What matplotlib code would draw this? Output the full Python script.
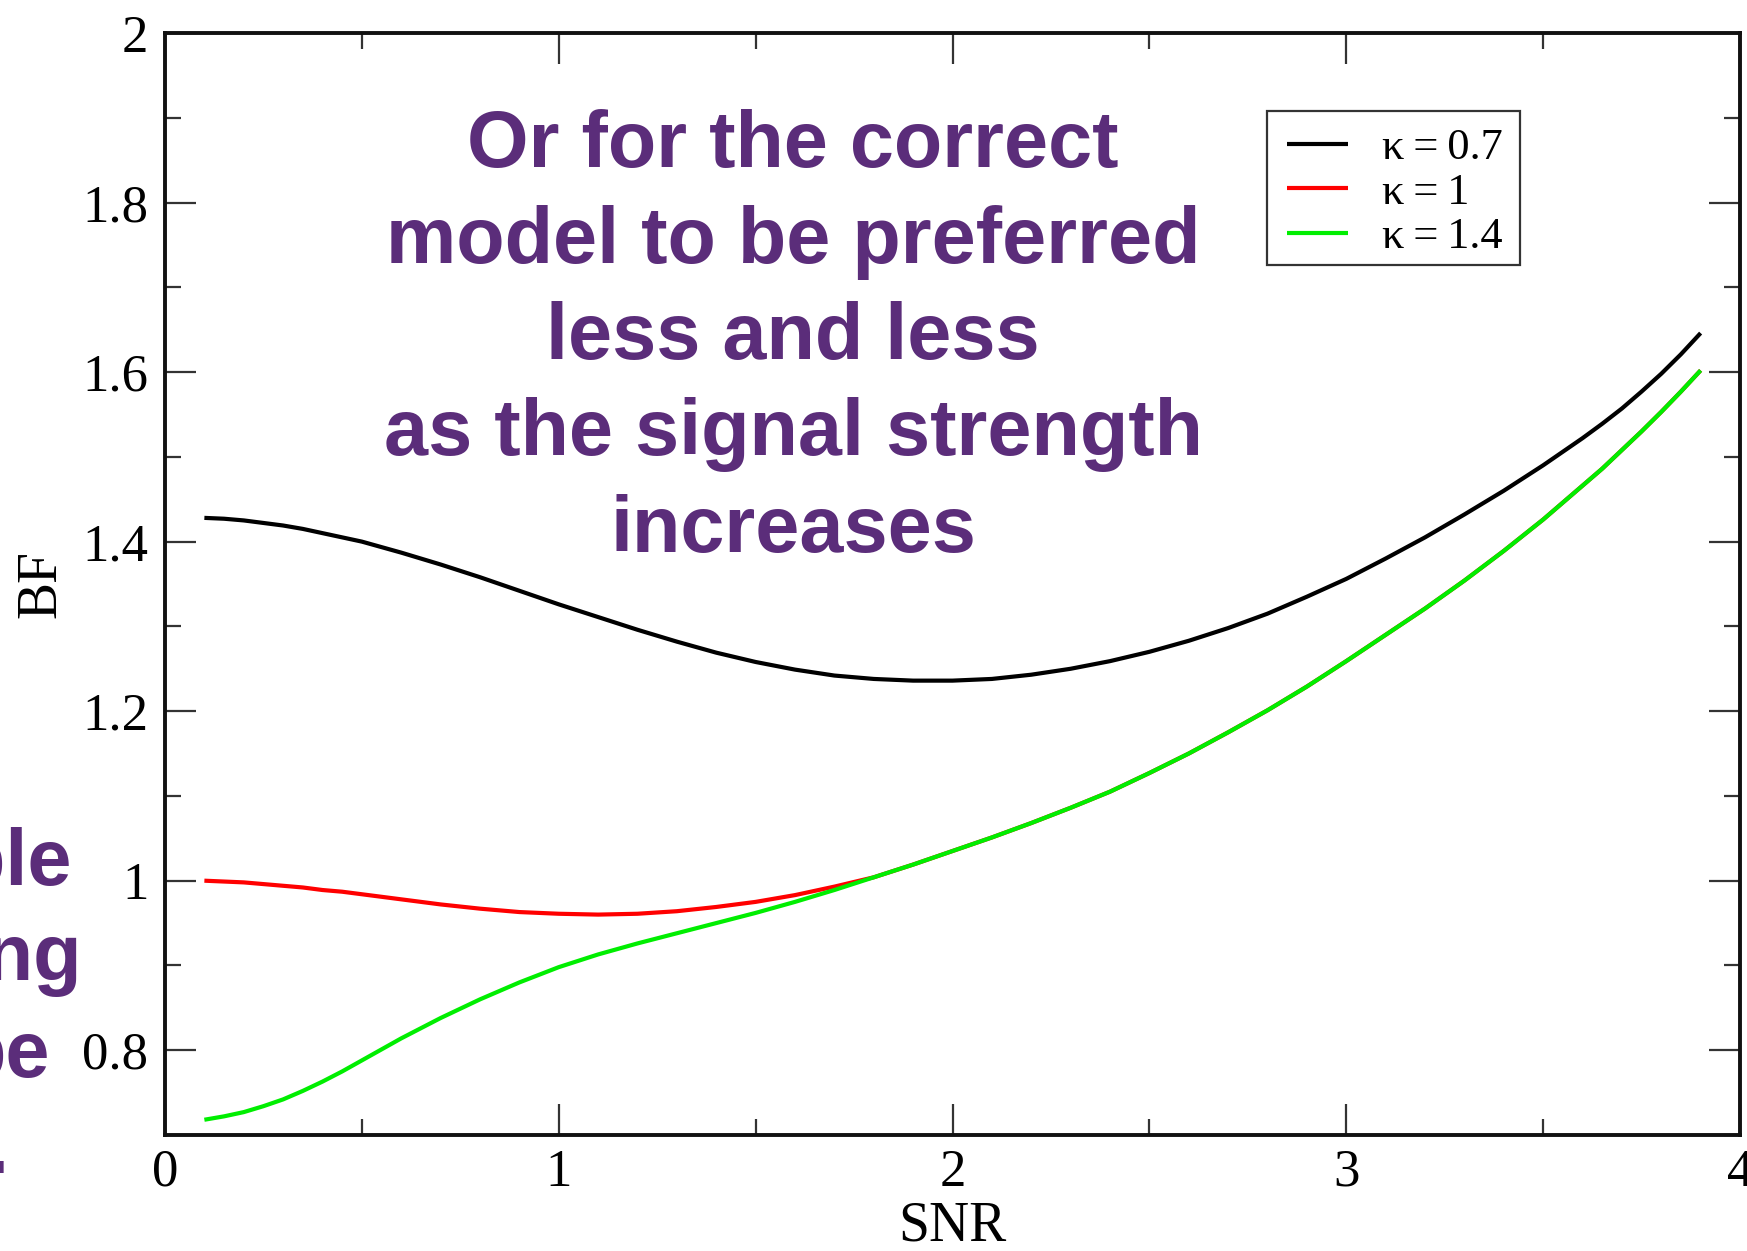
import matplotlib
matplotlib.use("Agg")
import matplotlib.pyplot as plt
from matplotlib.ticker import MultipleLocator
from matplotlib.patches import Rectangle

# ---------------- data ----------------
snr = [0.1, 0.15, 0.2, 0.25, 0.3, 0.35, 0.4, 0.45, 0.5, 0.6, 0.7, 0.8, 0.9, 1.0,
       1.1, 1.2, 1.3, 1.4, 1.5, 1.6, 1.7, 1.8, 1.9, 2.0,
       2.1, 2.2, 2.3, 2.4, 2.5, 2.6, 2.7, 2.8, 2.9, 3.0,
       3.1, 3.2, 3.3, 3.4, 3.5, 3.6, 3.65, 3.7, 3.75, 3.8, 3.85, 3.9]

bf_k07 = [1.428, 1.427, 1.425, 1.422, 1.419, 1.415, 1.410, 1.405, 1.400, 1.387, 1.373, 1.358, 1.342, 1.326,
          1.311, 1.296, 1.282, 1.269, 1.258, 1.249, 1.242, 1.238, 1.236, 1.236,
          1.238, 1.243, 1.250, 1.259, 1.270, 1.283, 1.298, 1.315, 1.335, 1.356,
          1.380, 1.405, 1.432, 1.460, 1.490, 1.522, 1.539, 1.557, 1.577, 1.598, 1.621, 1.646]

bf_k10 = [1.000, 0.999, 0.998, 0.996, 0.994, 0.992, 0.989, 0.987, 0.984, 0.978, 0.972, 0.967, 0.963, 0.961,
          0.960, 0.961, 0.964, 0.969, 0.975, 0.983, 0.993, 1.004, 1.019, 1.035,
          1.051, 1.068, 1.086, 1.105, 1.127, 1.150, 1.175, 1.201, 1.229, 1.259,
          1.290, 1.321, 1.354, 1.389, 1.426, 1.466, 1.486, 1.508, 1.530, 1.553, 1.577, 1.602]

bf_k14 = [0.718, 0.722, 0.727, 0.734, 0.742, 0.752, 0.763, 0.775, 0.788, 0.814, 0.838, 0.860, 0.880, 0.898,
          0.913, 0.926, 0.938, 0.950, 0.962, 0.975, 0.989, 1.004, 1.019, 1.035,
          1.051, 1.068, 1.086, 1.105, 1.127, 1.150, 1.175, 1.201, 1.229, 1.259,
          1.290, 1.321, 1.354, 1.389, 1.426, 1.466, 1.486, 1.508, 1.530, 1.553, 1.577, 1.602]

series_labels = ["\u03ba\u2009=\u20090.7", "\u03ba\u2009=\u20091", "\u03ba\u2009=\u20091.4"]
xtick_vals = [0, 1, 2, 3, 4]
xtick_labels = ["0", "1", "2", "3", "4"]
ytick_vals = [0.8, 1.0, 1.2, 1.4, 1.6, 1.8, 2.0]
ytick_labels = ["0.8", "1", "1.2", "1.4", "1.6", "1.8", "2"]

main_lines = ["Or for the correct", "model to be preferred", "less and less",
              "as the signal strength", "increases"]
side_lines = ["possible", "wrong", "be", "preferred."]

# ---------------- figure ----------------
W, H = 1747, 1251
fig = plt.figure(figsize=(W / 100, H / 100), dpi=100)
fig.patch.set_facecolor("white")
ax = fig.add_axes([165 / W, 1 - 1135 / H, (1740 - 165) / W, (1135 - 33) / H])

serif = ["Liberation Serif", "DejaVu Serif"]
kw = dict(lw=3.0, solid_capstyle="butt", solid_joinstyle="round")
ax.plot(snr, bf_k07, color="black", label=series_labels[0], **kw)
ax.plot(snr, bf_k10, color="#ff0000", label=series_labels[1], **kw)
ax.plot(snr, bf_k14, color="#00ee00", label=series_labels[2], **kw)

ax.set_xlim(0, 4)
ax.set_ylim(0.7, 2.0)
ax.set_xticks(xtick_vals)
ax.set_xticklabels(xtick_labels)
ax.set_yticks(ytick_vals)
ax.set_yticklabels(ytick_labels)
ax.xaxis.set_minor_locator(MultipleLocator(0.5))
ax.yaxis.set_minor_locator(MultipleLocator(0.1))

ax.tick_params(which="both", direction="in", top=True, right=True, color="#333333")
ax.tick_params(which="major", length=22, width=1.6, labelsize=38, pad=12)
ax.tick_params(which="minor", length=11.5, width=1.6)
for lab in ax.get_xticklabels() + ax.get_yticklabels():
    lab.set_fontfamily(serif)
ax.tick_params(axis="x", which="major", pad=10)

for s in ax.spines.values():
    s.set_linewidth(2.8)
    s.set_color("#111111")

ax.set_xlabel("SNR", fontsize=40, fontfamily=serif)
ax.set_ylabel("BF", fontsize=40, fontfamily=serif)
ax.xaxis.set_label_coords(0.5, -0.059)
ax.yaxis.set_label_coords(-0.062, 0.5)

leg = ax.legend(loc="upper left", bbox_to_anchor=(1267 / W, 1 - 108 / H),
                bbox_transform=fig.transFigure, borderaxespad=0,
                prop={"family": serif, "size": 32}, frameon=False,
                labelspacing=0.1, handlelength=1.38, handletextpad=0.75,
                borderpad=0.45)

# legend frame (square box)
fig.add_artist(Rectangle((1267 / W, 1 - 265 / H), (1520 - 1267) / W, (265 - 111) / H,
                         transform=fig.transFigure, facecolor="none",
                         edgecolor="#333333", lw=1.6, zorder=5))

purple = "#5b2d7a"
baselines = [167, 263, 359, 455, 552]
for txt, yb in zip(main_lines, baselines):
    fig.text(793 / W, 1 - yb / H, txt, ha="center", va="baseline",
             fontsize=57, fontweight="bold", color=purple, family="Liberation Sans")

side_right = [72, 82, 50, 10]
side_base = [885, 980, 1077, 1173]
for txt, xr, yb in zip(side_lines, side_right, side_base):
    fig.text(xr / W, 1 - yb / H, txt, ha="right", va="baseline",
             fontsize=57, fontweight="bold", color=purple, family="Liberation Sans")

fig.savefig("out.png", dpi=100, facecolor="white")
